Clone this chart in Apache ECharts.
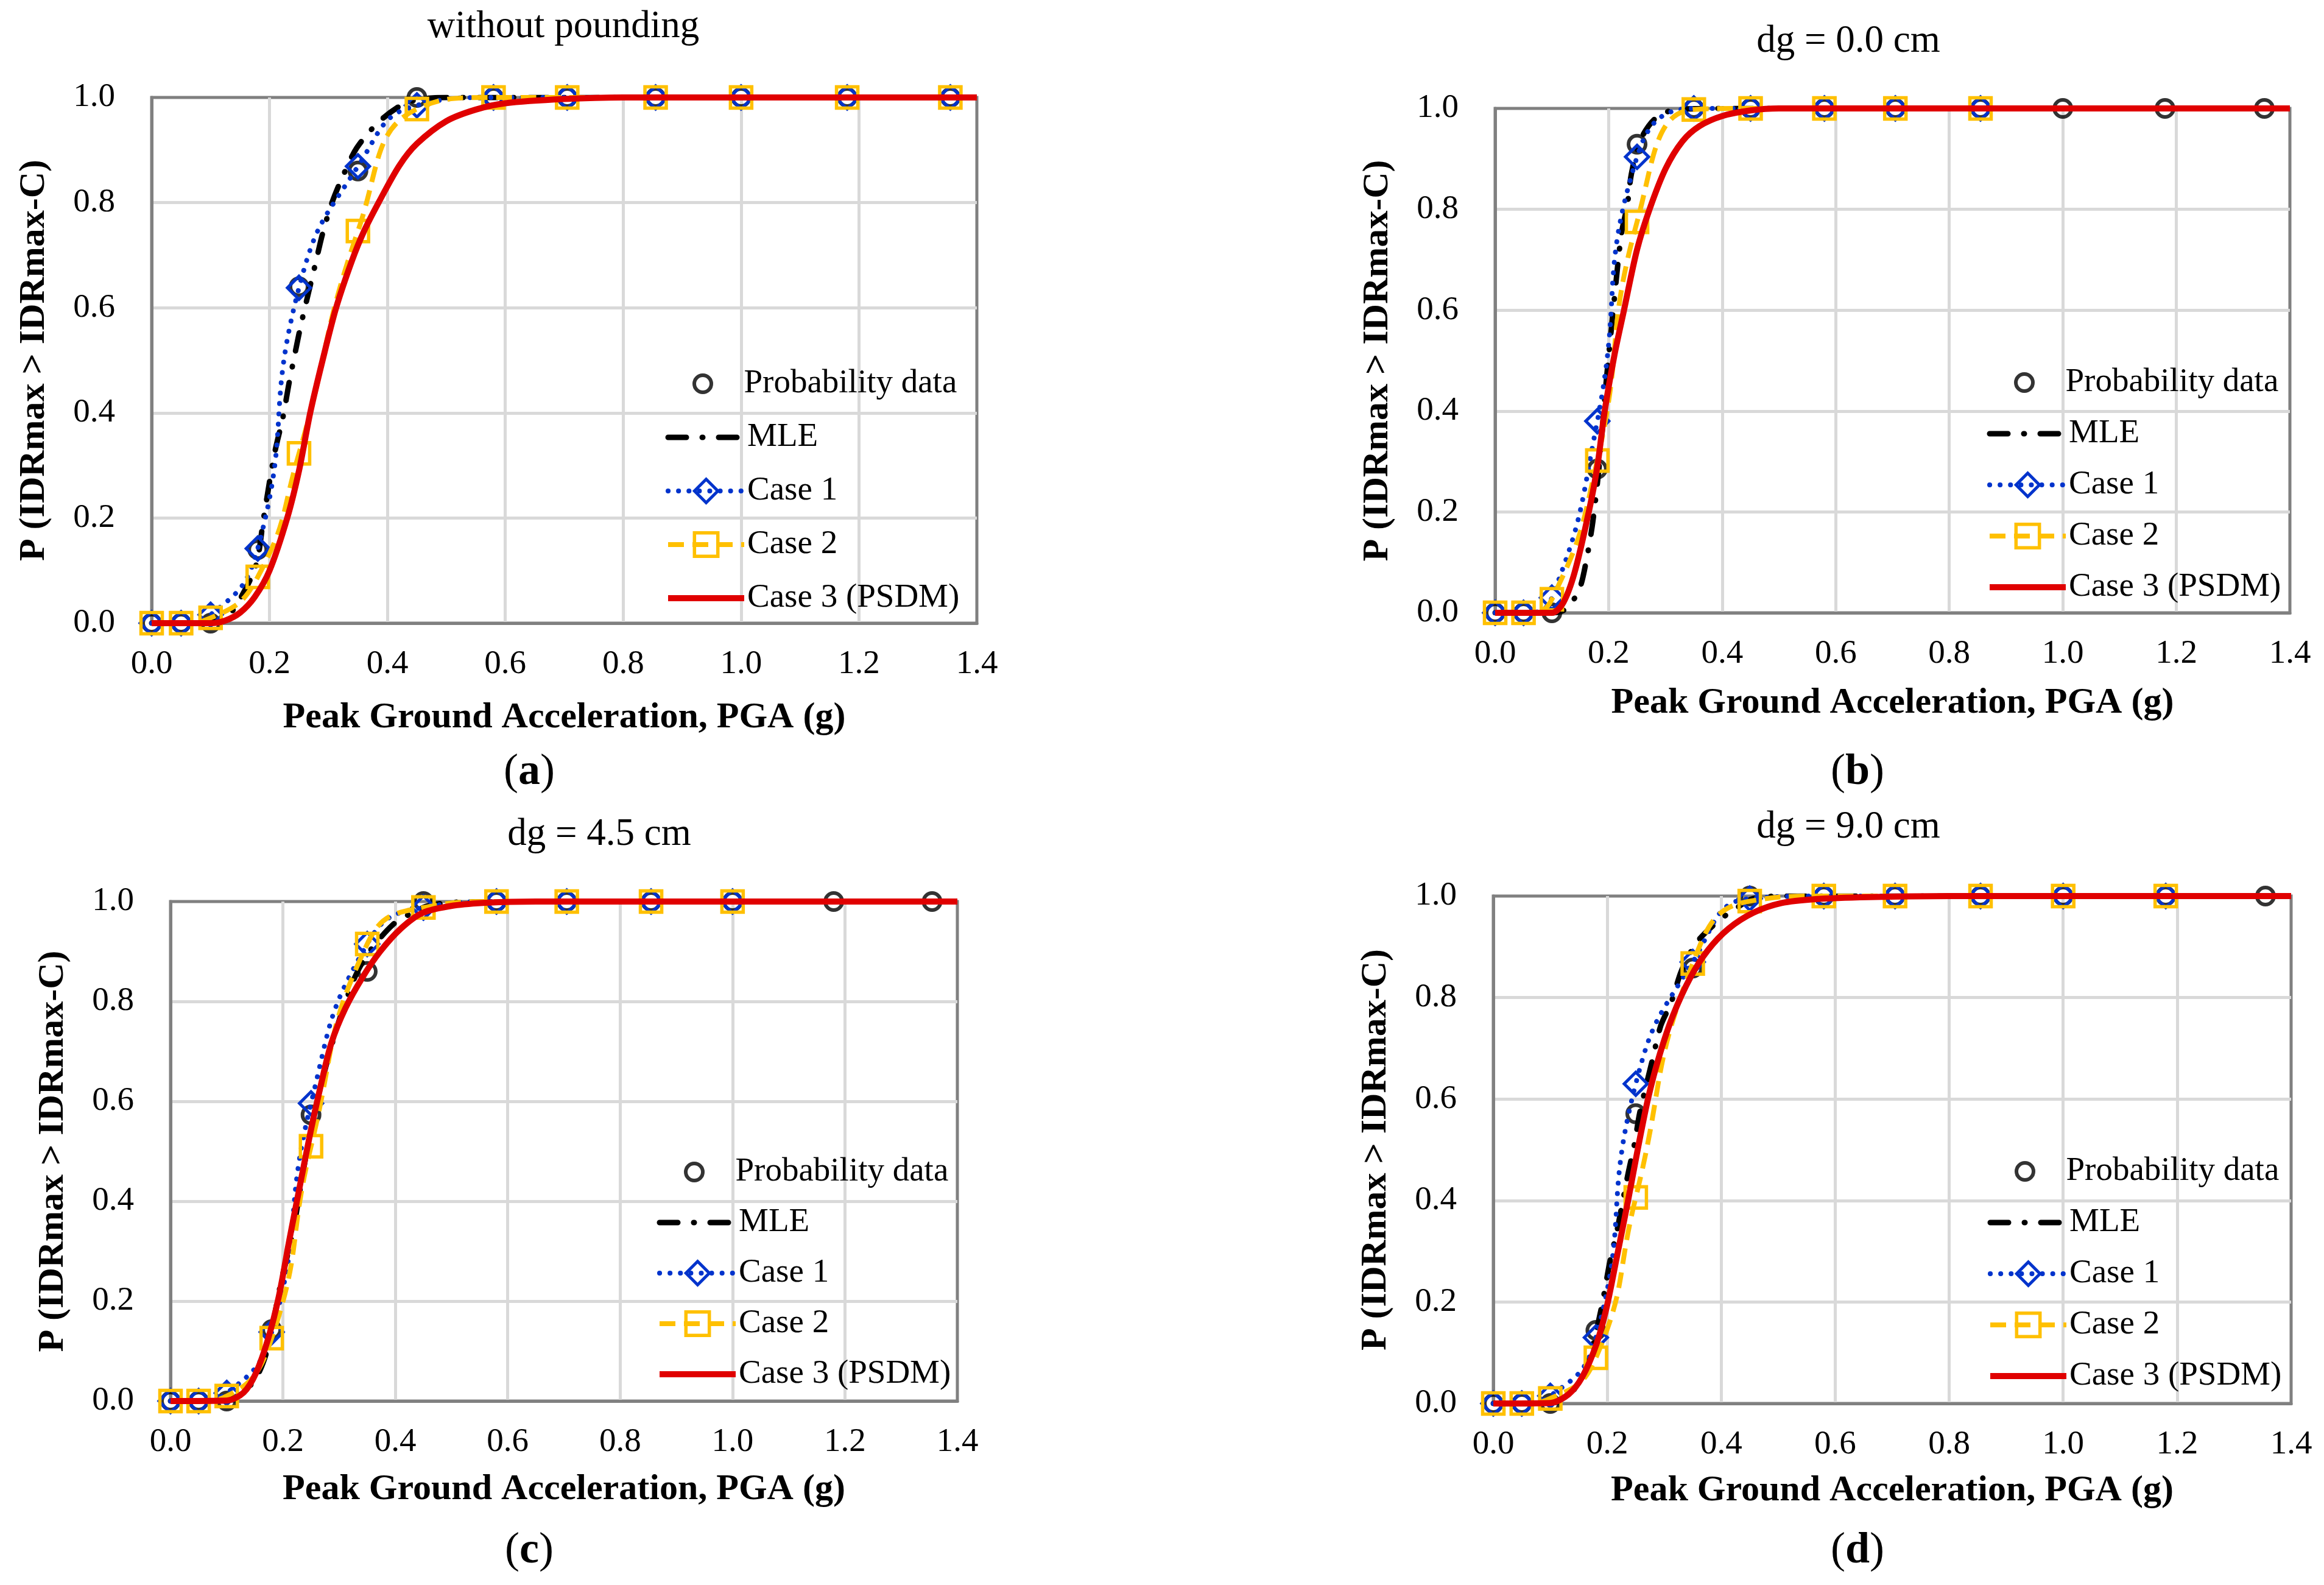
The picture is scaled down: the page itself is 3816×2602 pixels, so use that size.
<!DOCTYPE html>
<html>
<head>
<meta charset="utf-8">
<script src="https://cdn.jsdelivr.net/npm/echarts@6/dist/echarts.min.js"></script>
<style>
  html, body { margin: 0; padding: 0; background: #ffffff; }
  #chart { width: 3816px; height: 2602px; }
</style>
</head>
<body>
<div id="chart"></div>
<script>
// PGA levels (g) of the probability points
var pga = [0, 0.05, 0.1, 0.18, 0.25, 0.35, 0.45, 0.58, 0.705, 0.855, 1.0, 1.18, 1.355];

var panelTitles = ['without pounding', 'dg = 0.0 cm', 'dg = 4.5 cm', 'dg = 9.0 cm'];
var panelLetters = ['a', 'b', 'c', 'd'];
var xTicks = ['0.0', '0.2', '0.4', '0.6', '0.8', '1.0', '1.2', '1.4'];
var yTicks = ['0.0', '0.2', '0.4', '0.6', '0.8', '1.0'];

// (a) without pounding
var probA = [0, 0, 0, 0.14, 0.64, 0.86, 1, 1, 1, 1, 1, 1, 1];
var case1A = [0, 0, 0.016, 0.142, 0.638, 0.869, 0.985, 1, 1, 1, 1, 1, 1];
var case2A = [0, 0, 0.01, 0.088, 0.323, 0.746, 0.978, 1, 1, 1, 1, 1, 1];
var mleXA = [0, 0.1, 0.13, 0.151, 0.177, 0.19, 0.208, 0.223, 0.233, 0.243, 0.254, 0.279, 0.29, 0.306, 0.325, 0.348, 0.384, 0.423, 0.452, 0.5, 0.6, 1.4];
var mleYA = [0, 0.002, 0.015, 0.048, 0.11, 0.2, 0.32, 0.393, 0.456, 0.512, 0.571, 0.689, 0.741, 0.8, 0.852, 0.904, 0.952, 0.985, 0.996, 1, 1, 1];
var psdmXA = [0, 0.1, 0.125, 0.15, 0.175, 0.2, 0.23, 0.25, 0.269, 0.29, 0.313, 0.34, 0.36, 0.385, 0.42, 0.45, 0.5, 0.55, 0.6, 0.7, 0.8, 1.4];
var psdmYA = [0, 0, 0.005, 0.02, 0.05, 0.1, 0.2, 0.29, 0.4, 0.5, 0.6, 0.69, 0.745, 0.8, 0.87, 0.912, 0.955, 0.977, 0.989, 0.997, 1, 1];

// (b) dg = 0.0 cm
var probB = [0, 0, 0, 0.285, 0.929, 1, 1, 1, 1, 1, 1, 1, 1];
var case1B = [0, 0, 0.03, 0.38, 0.904, 1, 1, 1, 1, 1];
var case2B = [0, 0, 0.027, 0.302, 0.775, 0.998, 1, 1, 1, 1];
var mleXB = [0, 0.1, 0.125, 0.148, 0.16, 0.172, 0.184, 0.195, 0.208, 0.217, 0.223, 0.233, 0.24, 0.255, 0.282, 0.32, 0.4, 1.4];
var mleYB = [0, 0, 0.008, 0.046, 0.1, 0.18, 0.3, 0.45, 0.6, 0.7, 0.755, 0.81, 0.87, 0.935, 0.98, 0.998, 1, 1];
var psdmXB = [0, 0.1, 0.12, 0.14, 0.165, 0.18, 0.193, 0.21, 0.227, 0.25, 0.272, 0.3, 0.33, 0.36, 0.4, 0.45, 0.5, 1.4];
var psdmYB = [0, 0, 0.02, 0.08, 0.2, 0.29, 0.4, 0.51, 0.6, 0.72, 0.8, 0.88, 0.935, 0.965, 0.985, 0.996, 1, 1];

// (c) dg = 4.5 cm
var probC = [0, 0, 0, 0.143, 0.573, 0.86, 1, 1, 1, 1, 1, 1, 1];
var case1C = [0, 0, 0.016, 0.138, 0.596, 0.915, 0.988, 1, 1, 1, 1];
var case2C = [0, 0, 0.01, 0.126, 0.51, 0.915, 0.988, 1, 1, 1, 1];
var mleXC = [0, 0.1, 0.13, 0.155, 0.174, 0.196, 0.218, 0.233, 0.249, 0.265, 0.28, 0.295, 0.311, 0.331, 0.354, 0.395, 0.429, 0.46, 0.52, 1.4];
var mleYC = [0, 0.003, 0.018, 0.052, 0.11, 0.235, 0.34, 0.44, 0.54, 0.62, 0.685, 0.744, 0.798, 0.856, 0.9, 0.953, 0.977, 0.992, 0.999, 1];
var psdmXC = [0, 0.1, 0.13, 0.152, 0.174, 0.193, 0.211, 0.23, 0.249, 0.267, 0.286, 0.311, 0.342, 0.373, 0.41, 0.448, 0.504, 0.566, 0.65, 1.4];
var psdmYC = [0, 0.001, 0.017, 0.056, 0.126, 0.211, 0.32, 0.43, 0.538, 0.63, 0.716, 0.786, 0.849, 0.9, 0.946, 0.977, 0.992, 0.998, 1, 1];

// (d) dg = 9.0 cm
var probD = [0, 0, 0, 0.144, 0.571, 0.858, 1, 1, 1, 1, 1, 1, 1];
var case1D = [0, 0, 0.015, 0.13, 0.63, 0.87, 0.995, 1, 1, 1, 1, 1];
var case2D = [0, 0, 0.01, 0.09, 0.406, 0.867, 0.99, 1, 1, 1, 1, 1];
var mleXD = [0, 0.1, 0.13, 0.155, 0.171, 0.19, 0.205, 0.217, 0.236, 0.248, 0.257, 0.279, 0.294, 0.312, 0.331, 0.358, 0.394, 0.425, 0.456, 0.52, 1.4];
var mleYD = [0, 0.002, 0.015, 0.048, 0.098, 0.19, 0.282, 0.34, 0.45, 0.513, 0.573, 0.676, 0.745, 0.79, 0.855, 0.91, 0.95, 0.975, 0.995, 1, 1];
var psdmXD = [0, 0.1, 0.132, 0.156, 0.181, 0.199, 0.217, 0.236, 0.254, 0.272, 0.291, 0.315, 0.346, 0.377, 0.413, 0.456, 0.505, 0.566, 0.658, 0.8, 1.4];
var psdmYD = [0, 0.001, 0.018, 0.052, 0.117, 0.19, 0.29, 0.397, 0.504, 0.603, 0.684, 0.764, 0.84, 0.894, 0.936, 0.967, 0.986, 0.994, 0.998, 1, 1];

var panels = [
  { prob: probA, c1: case1A, c2: case2A, mleX: mleXA, mleY: mleYA, psX: psdmXA, psY: psdmYA },
  { prob: probB, c1: case1B, c2: case2B, mleX: mleXB, mleY: mleYB, psX: psdmXB, psY: psdmYB },
  { prob: probC, c1: case1C, c2: case2C, mleX: mleXC, mleY: mleYC, psX: psdmXC, psY: psdmYC },
  { prob: probD, c1: case1D, c2: case2D, mleX: mleXD, mleY: mleYD, psX: psdmXD, psY: psdmYD }
];

// layout of the four plot areas (px); the circle legend sits a little right of the line legend
var boxes = [
  { left: 249, top: 160, width: 1355, height: 863, title: [925, 44], letter: [869, 1268], legendLeft: 1092, legendTop: 600, legendGap: 28, xGap: 125 },
  { left: 2455, top: 178, width: 1305, height: 828, title: [3035, 68], letter: [3050, 1268], legendLeft: 3262, legendTop: 598, legendGap: 24, xGap: 118 },
  { left: 280, top: 1480, width: 1292, height: 820, title: [984, 1370], letter: [869, 2546], legendLeft: 1078, legendTop: 1894, legendGap: 23, xGap: 115 },
  { left: 2452, top: 1471, width: 1310, height: 833, title: [3035, 1358], letter: [3050, 2546], legendLeft: 3263, legendTop: 1893, legendGap: 24, xGap: 113 }
];

var FONT = '"Liberation Serif", "Times New Roman", serif';
var BLUE = '#0033CC';
var GOLD = '#FFC000';
var RED = '#E00000';
var CLEAR = 'rgba(255,255,255,0)';

var mleLine = { color: '#000000', width: 9, type: [30, 26, 1, 26], cap: 'round' };
var case1Line = { color: BLUE, width: 8, type: [0.1, 17], cap: 'round' };
var case2Line = { color: GOLD, width: 8, type: [26, 14] };
var psdmLine = { color: RED, width: 10, type: 'solid' };

function zip(xs, ys) {
  return ys.map(function (y, k) { return [xs[k], y]; });
}

var grids = [], xAxes = [], yAxes = [], series = [], legends = [], graphics = [];

boxes.forEach(function (b, i) {
  var p = panels[i];
  grids.push({
    left: b.left, top: b.top, width: b.width, height: b.height,
    show: true, borderColor: '#808080', borderWidth: 5,
    containLabel: false, outerBoundsMode: 'none'
  });
  xAxes.push({
    type: 'value', gridIndex: i, min: 0, max: 1.4, interval: 0.2,
    name: 'Peak Ground Acceleration, PGA (g)', nameLocation: 'middle', nameGap: b.xGap,
    nameTextStyle: { fontFamily: FONT, fontSize: 60, fontWeight: 'bold', color: '#000' },
    axisLine: { show: true, lineStyle: { color: '#808080', width: 5 } },
    axisTick: { show: false },
    axisLabel: { fontFamily: FONT, fontSize: 55, color: '#000', margin: 40,
      formatter: function (v) { return xTicks[Math.round(v / 0.2)]; } },
    splitLine: { show: true, showMinLine: false, showMaxLine: false, lineStyle: { color: '#D9D9D9', width: 5 } }
  });
  yAxes.push({
    type: 'value', gridIndex: i, min: 0, max: 1, interval: 0.2,
    name: 'P (IDRmax > IDRmax-C)', nameLocation: 'middle', nameGap: 163,
    nameTextStyle: { fontFamily: FONT, fontSize: 60, fontWeight: 'bold', color: '#000' },
    axisLine: { show: true, lineStyle: { color: '#808080', width: 5 } },
    axisTick: { show: false },
    axisLabel: { fontFamily: FONT, fontSize: 55, color: '#000', margin: 60,
      formatter: function (v) { return yTicks[Math.round(v / 0.2)]; } },
    splitLine: { show: true, showMinLine: false, showMaxLine: false, lineStyle: { color: '#D9D9D9', width: 5 } }
  });

  series.push({
    name: 'Probability data', type: 'scatter', xAxisIndex: i, yAxisIndex: i,
    data: zip(pga, p.prob), symbol: 'circle', symbolSize: 28,
    itemStyle: { color: CLEAR, borderColor: '#000', borderWidth: 6 }, z: 2
  });
  series.push({
    name: 'MLE', type: 'line', xAxisIndex: i, yAxisIndex: i,
    data: zip(p.mleX, p.mleY), smooth: 0.3, symbol: 'none',
    lineStyle: mleLine, z: 3
  });
  series.push({
    name: 'Case 1', type: 'line', xAxisIndex: i, yAxisIndex: i,
    data: zip(pga, p.c1), smooth: true, symbol: 'diamond', symbolSize: 38,
    itemStyle: { color: CLEAR, borderColor: BLUE, borderWidth: 5 },
    lineStyle: case1Line, z: 4
  });
  series.push({
    name: 'Case 2', type: 'line', xAxisIndex: i, yAxisIndex: i,
    data: zip(pga, p.c2), smooth: true, symbol: 'rect', symbolSize: 35,
    itemStyle: { color: CLEAR, borderColor: GOLD, borderWidth: 5.5 },
    lineStyle: case2Line, z: 5
  });
  series.push({
    name: 'Case 3 (PSDM)', type: 'line', xAxisIndex: i, yAxisIndex: i,
    data: zip(p.psX, p.psY), smooth: 0.3, symbol: 'none',
    lineStyle: psdmLine, z: 6
  });

  var legendText = { fontFamily: FONT, fontSize: 55, color: '#000', lineHeight: 60 };
  legends.push({
    orient: 'vertical', left: b.legendLeft + 45, top: b.legendTop,
    itemWidth: 125, itemHeight: 28, selectedMode: false, padding: 0,
    textStyle: legendText,
    data: [{ name: 'Probability data', icon: 'circle',
      itemStyle: { color: CLEAR, borderColor: '#000', borderWidth: 6 } }]
  });
  legends.push({
    orient: 'vertical', left: b.legendLeft, top: b.legendTop + 60 + b.legendGap,
    itemWidth: 125, itemHeight: 48, itemGap: b.legendGap, selectedMode: false, padding: 0,
    textStyle: legendText,
    data: [
      { name: 'MLE', itemStyle: { opacity: 0 }, lineStyle: mleLine },
      { name: 'Case 1', itemStyle: { color: CLEAR, borderColor: BLUE, borderWidth: 5 }, lineStyle: case1Line },
      { name: 'Case 2', itemStyle: { color: CLEAR, borderColor: GOLD, borderWidth: 5.5 }, lineStyle: case2Line },
      { name: 'Case 3 (PSDM)', itemStyle: { opacity: 0 }, lineStyle: psdmLine }
    ]
  });

  graphics.push({
    type: 'text', x: b.title[0], y: b.title[1],
    style: { text: panelTitles[i], fontFamily: FONT, fontSize: 63, fill: '#000',
      textAlign: 'center', textVerticalAlign: 'middle' }
  });
  graphics.push({
    type: 'text', x: b.letter[0], y: b.letter[1],
    style: { text: '({b|' + panelLetters[i] + '})', fontFamily: FONT, fontSize: 72, fill: '#000',
      textAlign: 'center', textVerticalAlign: 'middle',
      rich: { b: { fontFamily: FONT, fontSize: 72, fontWeight: 'bold', fill: '#000' } } }
  });
});

var chart = echarts.init(document.getElementById('chart'), null, { renderer: 'canvas' });
chart.setOption({
  animation: false,
  backgroundColor: '#ffffff',
  grid: grids,
  xAxis: xAxes,
  yAxis: yAxes,
  legend: legends,
  series: series,
  graphic: graphics
});
</script>
</body>
</html>
